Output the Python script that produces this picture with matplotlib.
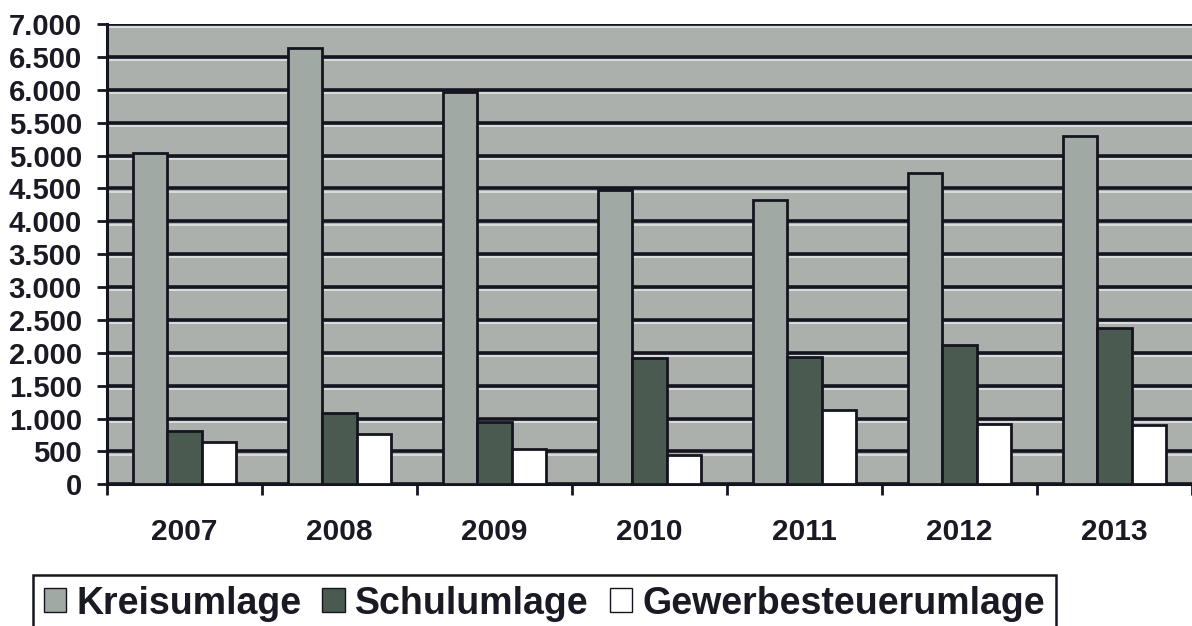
import matplotlib.pyplot as plt
import matplotlib.transforms as mtransforms
from matplotlib.ticker import FuncFormatter, MultipleLocator
import numpy as np

plt.rcParams['font.family'] = ['Liberation Sans', 'DejaVu Sans']
plt.rcParams['font.weight'] = 'bold'

years = ['2007', '2008', '2009', '2010', '2011', '2012', '2013']
kreisumlage = [5040, 6640, 5970, 4480, 4320, 4740, 5300]
schulumlage = [810, 1080, 950, 1920, 1940, 2120, 2380]
gewerbesteuerumlage = [650, 770, 530, 450, 1130, 920, 900]

series = [("Kreisumlage", kreisumlage, '#a1a9a4'),
          ("Schulumlage", schulumlage, '#4a5a50'),
          ("Gewerbesteuerumlage", gewerbesteuerumlage, '#ffffff')]

fig = plt.figure(figsize=(11.92, 6.26), dpi=100)
W, H = 1192, 626
ax = fig.add_axes([107 / W, 1 - 484.3 / H, 1 - 107 / W, (484.3 - 24) / H])
ax.set_facecolor('#abb0ad')

x = np.arange(len(years))
width = 1 / 4.5
for i, (name, vals, col) in enumerate(series):
    ax.bar(x + (i - 1) * width, vals, width, color=col, edgecolor='#15151f',
           linewidth=2, label=name, zorder=3)

ax.set_xlim(-0.5, len(years) - 0.5)
ax.set_ylim(0, 7000)
ax.yaxis.set_major_locator(MultipleLocator(500))
ax.yaxis.set_major_formatter(FuncFormatter(lambda v, p: f"{v:,.0f}".replace(",", ".")))

# gridlines with light strip under each (scanned 3D look)
ax.yaxis.grid(True, color='#15151f', linewidth=2.6, zorder=1)
ax.set_axisbelow(True)
yt = np.arange(500, 7001, 500)
off = mtransforms.ScaledTranslation(0, -2.4 / 72, fig.dpi_scale_trans)
ax.hlines(yt, -0.5, len(years) - 0.5, colors='#d9dddb', linewidth=1.4,
          transform=ax.transData + off, zorder=1.5)

ax.set_xticks(x)
ax.set_xticklabels(years, fontsize=21.5, fontweight='bold', color='#1a1a24')
ax.set_xticks(np.arange(-0.5, len(years) - 0.4, 1), minor=True)
ax.tick_params(axis='x', which='major', length=0, pad=24)
ax.tick_params(axis='x', which='minor', length=8, width=2, color='#15151f', direction='out')
ax.tick_params(axis='y', length=7, width=2, color='#15151f', pad=11,
               labelsize=21, labelcolor='#1a1a24')
for lab in ax.get_yticklabels():
    lab.set_fontweight('bold')

for s in ['left', 'bottom']:
    ax.spines[s].set_color('#15151f')
    ax.spines[s].set_linewidth(2.2)
ax.spines['right'].set_visible(False)
ax.spines['top'].set_visible(False)

leg = fig.legend(loc='upper left', bbox_to_anchor=(33 / W, 1 - 575 / H), ncol=3,
                 frameon=True, fancybox=False, edgecolor='#15151f', framealpha=1,
                 borderaxespad=0, prop={'weight': 'bold', 'size': 27},
                 handlelength=0.6, handleheight=0.6, handletextpad=0.28,
                 columnspacing=0.55, borderpad=0.28)
leg.get_frame().set_linewidth(1.8)
for h in leg.legend_handles:
    h.set_linewidth(1)
for t in leg.get_texts():
    t.set_color('#1a1a24')

fig.savefig('out.png', dpi=100)
